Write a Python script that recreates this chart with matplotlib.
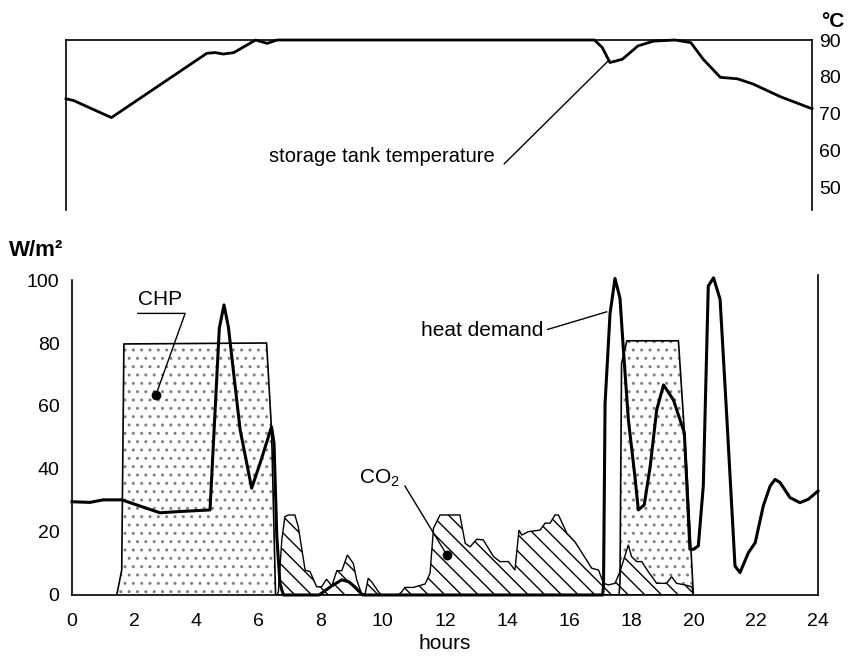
import numpy as np
import matplotlib.pyplot as plt

plt.rcParams['font.family'] = ['Liberation Sans', 'DejaVu Sans']
plt.rcParams['mathtext.default'] = 'regular'
plt.rcParams['hatch.linewidth'] = 1.0

# storage tank temperature (upper panel), hours / degC
temp_h = [0, 0.25, 1.46, 4.53, 4.8, 5.06, 5.4, 6.1, 6.47, 6.8, 17.0, 17.25, 17.5,
          17.9, 18.4, 18.9, 19.6, 20.1, 20.5, 21.05, 21.6, 22.1, 23.0, 24.0]
temp_v = [74.1, 73.6, 69.0, 86.4, 86.6, 86.2, 86.6, 90.0, 89.1, 90.0, 90.0, 88.0, 83.9,
          84.8, 88.4, 89.7, 90.0, 89.3, 84.8, 79.9, 79.5, 78.1, 74.6, 71.4]
temp_ticks = [50, 60, 70, 80, 90]

# heat demand, W/m2
heat_h = [0, 0.58, 1.0, 1.6, 2.08, 2.83, 3.47, 4.44, 4.74, 4.89, 5.03, 5.41, 5.78, 6.05,
          6.42, 6.5, 6.59, 6.69, 6.8, 7.95, 8.36, 8.68, 8.9, 9.1, 9.35, 17.07, 17.1,
          17.15, 17.31, 17.47, 17.63, 17.74, 17.9, 18.11, 18.22, 18.41, 18.6, 18.81,
          19.03, 19.35, 19.7, 19.88, 20.0, 20.15, 20.31, 20.47, 20.64, 20.85, 21.07,
          21.33, 21.49, 21.76, 21.98, 22.24, 22.46, 22.62, 22.78, 23.1, 23.42, 23.69, 24.0]
heat_v = [29.6, 29.4, 30.2, 30.2, 28.6, 26.1, 26.5, 27.0, 84.7, 92.1, 85.2, 52.4, 33.9, 41.8,
          53.4, 48.2, 18.5, 3.7, 0, 0, 2.9, 4.8, 4.2, 2.6, 0, 0, 3.0,
          60.8, 89.4, 100.5, 94.2, 77.8, 55.6, 37.6, 27.0, 28.6, 40.7, 58.7,
          66.7, 61.9, 51.5, 14.5, 14.5, 15.6, 34.6, 98.1, 100.7, 93.9, 55.8,
          9.2, 7.1, 13.4, 16.6, 28.3, 34.6, 36.7, 35.7, 30.9, 29.3, 30.4, 33.0]

# CHP output
chp_am_h = [1.44, 1.6, 1.67, 6.26, 6.42, 6.55]
chp_am_v = [0, 7.9, 79.7, 80.0, 52.4, 0]
chp_pm_h = [17.6, 17.63, 17.68, 17.85, 19.51, 19.67, 19.78, 19.99]
chp_pm_v = [0, 4.2, 73.5, 80.7, 80.7, 56.6, 39.7, 0]

# CO2 heat
co2_am_h = [6.6, 6.64, 6.75, 6.85, 6.96, 7.17, 7.28, 7.5, 7.66, 7.87, 8.03, 8.19, 8.36,
            8.52, 8.68, 8.86, 9.05, 9.16, 9.32, 9.43, 9.53, 9.64, 9.86, 9.95]
co2_am_v = [0, 1.0, 17.5, 24.9, 25.4, 25.4, 21.7, 7.9, 7.4, 2.6, 2.6, 5.0, 2.9,
            7.7, 7.7, 12.7, 10.0, 4.8, 0.3, 0.3, 5.3, 4.2, 1.0, 0]
co2_pm_h = [10.5, 10.61, 10.71, 10.98, 11.36, 11.52, 11.63, 11.84, 12.48, 12.65, 12.81,
            13.02, 13.23, 13.56, 13.77, 14.04, 14.25, 14.38, 14.47, 14.68, 15.06, 15.22,
            15.38, 15.54, 15.65, 15.92, 16.18, 16.72, 16.94, 17.1, 17.26, 17.47, 17.63,
            17.9, 18.0, 18.17, 18.33, 18.54, 18.81, 19.13, 19.29, 19.45, 19.72, 19.94, 20.0]
co2_pm_v = [0, 1.0, 2.4, 2.4, 3.5, 6.9, 21.2, 25.4, 25.4, 16.4, 15.3,
            17.7, 17.5, 12.2, 10.6, 10.6, 7.9, 20.6, 19.0, 20.1, 20.6, 22.8,
            22.8, 25.4, 25.4, 19.6, 16.9, 8.5, 7.9, 3.7, 3.2, 3.7, 7.4,
            15.9, 12.2, 10.6, 10.6, 7.4, 3.7, 3.7, 5.8, 3.7, 3.2, 2.6, 0]

fig = plt.figure(figsize=(8.56, 6.57), dpi=100)
ax_t = fig.add_axes([0.0771, 0.6804, 0.8715, 0.2587])
ax = fig.add_axes([0.0841, 0.0944, 0.8715, 0.4794])

# --- upper panel: tank temperature
ax_t.plot(temp_h, temp_v, color='k', lw=2.0, clip_on=False, solid_joinstyle='round')
ax_t.set_xlim(0, 24)
ax_t.set_ylim(44, 90)
ax_t.spines['bottom'].set_visible(False)
for s in ['top', 'left', 'right']:
    ax_t.spines[s].set_linewidth(1.2)
ax_t.set_xticks([])
ax_t.yaxis.tick_right()
ax_t.set_yticks(temp_ticks)
ax_t.tick_params(axis='y', length=0, pad=5, labelsize=14)
ax_t.text(13.8, 58.4, 'storage tank temperature', ha='right', va='center', fontsize=14.5)
ax_t.plot([14.1, 17.45], [56.5, 84.4], color='k', lw=1.0)

# --- lower panel: power
ax.fill(chp_am_h, chp_am_v, facecolor='white', edgecolor='0.5', hatch='..', lw=0)
ax.fill(chp_pm_h, chp_pm_v, facecolor='white', edgecolor='0.5', hatch='..', lw=0)
ax.plot(chp_am_h, chp_am_v, color='k', lw=1.2)
ax.plot(chp_pm_h, chp_pm_v, color='k', lw=1.2)

ax.fill(co2_am_h, co2_am_v, facecolor='white', edgecolor='k', hatch='\\\\', lw=1.0)
ax.fill(co2_pm_h, co2_pm_v, facecolor='white', edgecolor='k', hatch='\\\\', lw=1.0)

ax.plot(heat_h, heat_v, color='k', lw=2.2, clip_on=False, solid_joinstyle='round')

ax.set_xlim(0, 24)
ax.set_ylim(0, 100)
ax.spines['top'].set_visible(False)
for s in ['left', 'right', 'bottom']:
    ax.spines[s].set_linewidth(1.2)
ax.spines['right'].set_bounds(0, 101.5)
ax.set_xticks(range(0, 25, 2))
ax.set_yticks(range(0, 101, 20))
ax.tick_params(axis='x', length=0, pad=13, labelsize=14)
ax.tick_params(axis='y', length=0, pad=9, labelsize=14)
ax.set_xlabel('hours', fontsize=15, labelpad=3)

# labels with leaders
ax.text(2.83, 93.7, 'CHP', ha='center', va='center', fontsize=15)
ax.plot([2.12, 3.64, 2.7], [89.4, 89.4, 63.5], color='k', lw=1.0, clip_on=False)
ax.plot([2.7], [63.5], 'ko', ms=6)

ax.text(9.9, 37.1, 'CO$_2$', ha='center', va='center', fontsize=15)
ax.plot([10.71, 12.06], [34.6, 12.7], color='k', lw=1.0)
ax.plot([12.06], [12.7], 'ko', ms=6)

ax.text(15.15, 84.0, 'heat demand', ha='right', va='center', fontsize=15)
ax.plot([15.3, 17.2], [84.3, 89.9], color='k', lw=1.0)

fig.text(0.042, 0.619, 'W/m²', ha='center', va='center', fontsize=16, fontweight='bold')
fig.text(0.973, 0.968, '°C', ha='center', va='center', fontsize=15, fontweight='bold')

fig.savefig('out.png', dpi=100)
